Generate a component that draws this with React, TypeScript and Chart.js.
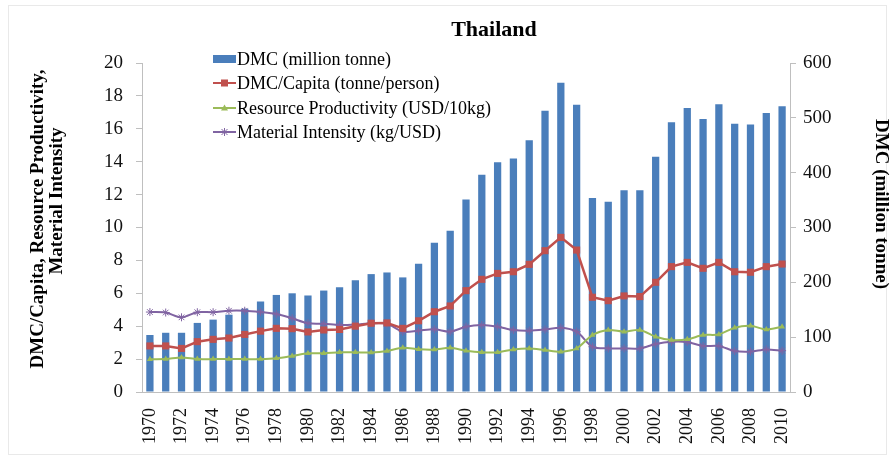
import React, { useEffect, useRef } from "react";
import { Chart, registerables } from "chart.js";
Chart.register(...registerables);

const years = [
  "1970","1971","1972","1973","1974","1975","1976","1977","1978","1979",
  "1980","1981","1982","1983","1984","1985","1986","1987","1988","1989",
  "1990","1991","1992","1993","1994","1995","1996","1997","1998","1999",
  "2000","2001","2002","2003","2004","2005","2006","2007","2008","2009","2010",
];

// DMC (million tonne) – right axis
const dmc = [
  104, 108, 108, 126, 132, 141, 152, 165, 177, 180,
  176, 185, 191, 204, 215, 218, 209, 234, 272, 294,
  351, 396, 419, 426, 459, 513, 564, 524, 354, 347,
  368, 368, 429, 492, 518, 498, 525, 489, 488, 509, 521,
];

// DMC/Capita (tonne/person) – left axis
const dmcPerCapita = [
  2.8, 2.8, 2.65, 3.06, 3.2, 3.28, 3.5, 3.7, 3.87, 3.85,
  3.65, 3.77, 3.8, 4.0, 4.18, 4.2, 3.87, 4.33, 4.88, 5.23,
  6.16, 6.85, 7.21, 7.31, 7.76, 8.59, 9.4, 8.63, 5.76, 5.55,
  5.84, 5.8, 6.67, 7.62, 7.88, 7.52, 7.88, 7.31, 7.28, 7.62, 7.78,
];

// Resource Productivity (USD/10kg) – left axis
const resourceProductivity = [
  1.99, 2.0, 2.1, 2.0, 2.0, 2.0, 2.0, 2.0, 2.05, 2.19,
  2.35, 2.35, 2.41, 2.41, 2.4, 2.49, 2.69, 2.6, 2.58, 2.69,
  2.51, 2.41, 2.41, 2.59, 2.65, 2.55, 2.45, 2.65, 3.46, 3.77,
  3.67, 3.77, 3.36, 3.16, 3.2, 3.46, 3.5, 3.91, 4.03, 3.8, 3.97,
];

// Material Intensity (kg/USD) – left axis
const materialIntensity = [
  4.86, 4.83, 4.54, 4.85, 4.85, 4.94, 4.94, 4.86, 4.74, 4.48,
  4.18, 4.15, 4.07, 4.1, 4.18, 4.15, 3.67, 3.73, 3.81, 3.67,
  3.97, 4.07, 3.97, 3.77, 3.73, 3.8, 3.91, 3.67, 2.75, 2.65,
  2.65, 2.65, 2.92, 3.06, 3.04, 2.8, 2.8, 2.49, 2.45, 2.59, 2.51,
];

const seriesNames = [
  "DMC (million tonne)",
  "DMC/Capita (tonne/person)",
  "Resource Productivity (USD/10kg)",
  "Material Intensity (kg/USD)",
];

const chartTitle = "Thailand";
const leftTitleLines = ["DMC/Capita, Resource Productivity,", "Material Intensity"];
const rightTitle = "DMC (million tonne)";

const FONT = '"Liberation Serif", "Times New Roman", serif';
const BLUE = "#4A7EBB";
const RED = "#C0504D";
const GREEN = "#9BBB59";
const PURPLE = "#8064A2";
const AXIS = "#BFBFBF";

const decor = {
  id: "decor",
  afterDraw(chart: any) {
    const ctx = chart.ctx as CanvasRenderingContext2D;
    ctx.save();
    // faint frame
    ctx.strokeStyle = "#e9e9e9";
    ctx.lineWidth = 1;
    ctx.strokeRect(8.5, 5.5, 878, 449);

    ctx.fillStyle = "#000";
    ctx.textBaseline = "middle";
    ctx.textAlign = "center";
    ctx.font = `bold 22px ${FONT}`;
    ctx.fillText(chartTitle, 494, 30);

    ctx.font = `bold 19px ${FONT}`;
    const lt = [
      [38, 219],
      [57, 201],
    ];
    leftTitleLines.forEach((t, i) => {
      ctx.save();
      ctx.translate(lt[i][0], lt[i][1]);
      ctx.rotate(-Math.PI / 2);
      ctx.fillText(t, 0, 0);
      ctx.restore();
    });
    ctx.save();
    ctx.translate(881, 204);
    ctx.rotate(Math.PI / 2);
    ctx.fillText(rightTitle, 0, 0);
    ctx.restore();

    // legend
    const rows = [59, 83, 108, 132];
    const colors = [BLUE, RED, GREEN, PURPLE];
    const x0 = 213;
    const x1 = 236;
    ctx.font = `18px ${FONT}`;
    ctx.textAlign = "left";
    rows.forEach((y, i) => {
      const c = colors[i];
      if (i === 0) {
        ctx.fillStyle = c;
        ctx.fillRect(x0, y - 4, x1 - x0, 8);
      } else {
        ctx.strokeStyle = c;
        ctx.lineWidth = 2;
        ctx.beginPath();
        ctx.moveTo(x0, y);
        ctx.lineTo(x1, y);
        ctx.stroke();
        const cx = (x0 + x1) / 2;
        ctx.fillStyle = c;
        if (i === 1) {
          ctx.fillRect(cx - 3.5, y - 3.5, 7, 7);
        } else if (i === 2) {
          ctx.beginPath();
          ctx.moveTo(cx, y - 3.5);
          ctx.lineTo(cx + 3.5, y + 2.5);
          ctx.lineTo(cx - 3.5, y + 2.5);
          ctx.closePath();
          ctx.fill();
        } else {
          ctx.lineWidth = 1;
          ctx.beginPath();
          ctx.moveTo(cx - 3, y - 3);
          ctx.lineTo(cx + 3, y + 3);
          ctx.moveTo(cx + 3, y - 3);
          ctx.lineTo(cx - 3, y + 3);
          ctx.moveTo(cx, y - 4);
          ctx.lineTo(cx, y + 4);
          ctx.stroke();
        }
      }
      ctx.fillStyle = "#000";
      ctx.fillText(seriesNames[i], x1 + 1, y + 1);
    });
    ctx.restore();
  },
};

export default function App() {
  const ref = useRef<HTMLCanvasElement | null>(null);
  useEffect(() => {
    document.body.style.margin = "0";
    if (!ref.current) return;
    const chart = new Chart(ref.current, {
      type: "bar",
      data: {
        labels: years,
        datasets: [
          {
            type: "line",
            label: seriesNames[1],
            data: dmcPerCapita,
            yAxisID: "y",
            borderColor: RED,
            backgroundColor: RED,
            borderWidth: 2.5,
            pointStyle: "rect",
            pointRadius: 5,
            pointBorderWidth: 0,
            tension: 0,
            order: 1,
          },
          {
            type: "line",
            label: seriesNames[2],
            data: resourceProductivity,
            yAxisID: "y",
            borderColor: GREEN,
            backgroundColor: GREEN,
            borderWidth: 2,
            pointStyle: "triangle",
            pointRadius: 3.5,
            pointBorderWidth: 0,
            tension: 0.3,
            order: 1,
          },
          {
            type: "line",
            label: seriesNames[3],
            data: materialIntensity,
            yAxisID: "y",
            borderColor: PURPLE,
            backgroundColor: PURPLE,
            borderWidth: 2,
            pointStyle: "star",
            pointRadius: 4,
            pointBorderWidth: 1,
            tension: 0.3,
            order: 1,
          },
          {
            type: "bar",
            label: seriesNames[0],
            data: dmc,
            yAxisID: "y1",
            backgroundColor: BLUE,
            barPercentage: 0.46,
            categoryPercentage: 1,
            order: 2,
          },
        ],
      },
      options: {
        responsive: false,
        animation: false,
        layout: { padding: { top: 63, left: 0, right: 0, bottom: 0 } },
        plugins: {
          legend: { display: false },
          title: { display: false },
          tooltip: { enabled: false },
        },
        scales: {
          x: {
            offset: true,
            grid: { display: false },
            border: { display: true, color: AXIS, width: 1 },
            ticks: {
              autoSkip: false,
              minRotation: 90,
              maxRotation: 90,
              padding: 8,
              color: "#111",
              font: { family: FONT, size: 18 },
              callback: (_v: any, i: number) => (i % 2 === 0 ? years[i] : ""),
            },
            afterFit: (s: any) => {
              s.height = 68;
            },
          },
          y: {
            position: "left",
            min: 0,
            max: 20,
            ticks: {
              stepSize: 2,
              padding: 13,
              color: "#111",
              font: { family: FONT, size: 19 },
            },
            grid: {
              drawOnChartArea: false,
              drawTicks: true,
              tickLength: 6,
              color: AXIS,
            },
            border: { display: true, color: AXIS, width: 1 },
            afterFit: (s: any) => {
              s.width = 142;
            },
          },
          y1: {
            position: "right",
            min: 0,
            max: 600,
            ticks: {
              stepSize: 100,
              padding: 7,
              color: "#111",
              font: { family: FONT, size: 19 },
            },
            grid: {
              drawOnChartArea: false,
              drawTicks: true,
              tickLength: 6,
              color: AXIS,
            },
            border: { display: true, color: AXIS, width: 1 },
            afterFit: (s: any) => {
              s.width = 103;
            },
          },
        },
      },
      plugins: [decor],
    } as any);
    return () => chart.destroy();
  }, []);
  return (
    <div style={{ position: "absolute", left: 0, top: 0, width: 893, height: 460, background: "#fff" }}>
      <canvas ref={ref} width={893} height={460} />
    </div>
  );
}
